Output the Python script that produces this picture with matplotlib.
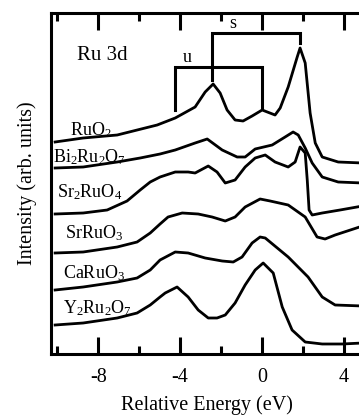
import matplotlib
matplotlib.use("Agg")
import matplotlib.pyplot as plt
from matplotlib.ticker import MultipleLocator

plt.rcParams['font.family'] = ['Liberation Serif', 'DejaVu Serif']
plt.rcParams['mathtext.fontset'] = 'custom'
plt.rcParams['mathtext.rm'] = 'Liberation Serif'
plt.rcParams['mathtext.default'] = 'regular'
plt.rcParams['axes.unicode_minus'] = False

# spectra: relative energy (eV) and offset intensity (arb.)
e_ruo2 = [-10.10, -8.73, -7.07, -5.12, -4.24, -3.27, -2.78, -2.39, -2.05, -1.71,
          -1.32, -0.93, -0.49, 0.00, 0.63, 0.88, 1.27, 1.71, 1.85, 2.10,
          2.34, 2.59, 2.93, 3.71, 4.90]
i_ruo2 = [212, 216, 219, 229, 236, 247, 262, 270, 261, 244,
          234, 233, 238, 244, 239, 246, 267, 297, 306, 291,
          241, 211, 197, 192, 191]

e_bi = [-10.10, -8.73, -7.07, -5.95, -4.98, -4.24, -3.27, -2.68, -1.95, -1.22,
        -0.83, -0.34, 0.49, 1.12, 1.51, 1.76, 2.10, 2.44, 2.93, 3.71, 4.90]
i_bi = [186, 187, 192, 196, 200, 204, 211, 215, 204, 197,
        197, 205, 209, 217, 222, 219, 206, 191, 177, 172, 171]

e_sr2 = [-10.10, -8.73, -7.56, -6.59, -5.95, -5.46, -4.98, -4.24, -3.61, -3.27,
         -2.63, -2.20, -1.80, -1.32, -0.83, -0.34, 0.15, 0.63, 1.27, 1.61,
         1.85, 2.10, 2.20, 2.29, 2.44, 2.93, 3.80, 4.90]
i_sr2 = [140, 141, 144, 153, 164, 172, 177, 182, 182, 181,
         188, 182, 171, 174, 187, 196, 199, 192, 187, 192,
         207, 201, 174, 144, 139, 141, 144, 148]

e_sr = [-10.10, -8.73, -7.07, -6.10, -5.46, -4.98, -4.59, -3.90, -3.12, -2.44,
        -1.80, -1.32, -0.83, -0.10, 0.39, 1.27, 2.10, 2.68, 3.07, 3.56, 4.90]
i_sr = [101, 102, 107, 112, 121, 130, 137, 141, 140, 137,
        133, 137, 147, 155, 153, 149, 137, 117, 115, 119, 128]

e_ca = [-10.10, -8.73, -7.07, -6.10, -5.46, -4.98, -4.24, -3.61, -2.78, -1.95,
        -1.41, -0.98, -0.49, -0.10, 0.15, 1.27, 2.24, 2.93, 3.56, 4.90]
i_ca = [64, 67, 72, 76, 84, 94, 102, 101, 96, 93,
        92, 97, 111, 117, 116, 97, 77, 57, 49, 48]

e_y = [-10.10, -8.73, -7.07, -6.10, -5.46, -4.98, -4.73, -4.15, -3.61, -3.12,
       -2.63, -2.20, -1.80, -1.32, -0.83, -0.34, 0.05, 0.54, 0.98, 1.46,
       2.10, 2.93, 3.90, 4.90]
i_y = [29, 31, 36, 41, 49, 57, 61, 67, 57, 44,
       36, 36, 39, 51, 69, 84, 91, 81, 47, 24,
       12, 10, 10, 11]

spectra = [(e_ruo2, i_ruo2), (e_bi, i_bi), (e_sr2, i_sr2),
           (e_sr, i_sr), (e_ca, i_ca), (e_y, i_y)]

names = ['RuO$_2$', 'Bi$_2$Ru$_2$O$_7$', 'Sr$_2$RuO$_4$',
         'SrRuO$_3$', 'CaRuO$_3$', 'Y$_2$Ru$_2$O$_7$']
name_x = [-9.37, -10.2, -10.0, -9.61, -9.71, -9.71]
name_y = [219, 192, 157, 116, 76, 41]

# u / s satellite brackets: (left E, right E, bar level, left foot, right foot)
u_br = (-4.24, 0.0, 287, 244, 246)
s_br = (-2.44, 1.85, 321, 274, 311)

fig = plt.figure(figsize=(3.59, 4.17), dpi=100)
ax = fig.add_axes([51 / 359, 63 / 417, 311.6 / 359, 341 / 417])

for e, i in spectra:
    ax.plot(e, i, color='black', lw=2.0, solid_joinstyle='round')

for nm, x, y in zip(names, name_x, name_y):
    ax.text(x, y, nm, fontsize=13, ha='left', va='baseline')

for (x0, x1, top, f0, f1), lab in [(u_br, 'u'), (s_br, 's')]:
    ax.plot([x0, x0, x1, x1], [f0, top, top, f1], color='black', lw=2.2,
            solid_joinstyle='miter')
    ax.text(x0 + 0.58 if lab == 'u' else -1.41, top + 5, lab, fontsize=13,
            ha='center', va='baseline')

ax.text(-9.02, 294, 'Ru 3d', fontsize=15, ha='left', va='baseline')

ax.set_xlim(-10.3, 4.9)
ax.set_ylim(0, 341)
ax.xaxis.set_major_locator(MultipleLocator(4))
ax.xaxis.set_minor_locator(MultipleLocator(2))
ax.set_yticks([])
ax.tick_params(axis='x', which='both', direction='in', top=True, width=2.2)
ax.tick_params(axis='x', which='major', length=12, labelsize=14.5, pad=10)
ax.tick_params(axis='x', which='minor', length=6)
for sp in ['left', 'bottom', 'top']:
    ax.spines[sp].set_linewidth(2.2)
ax.spines['right'].set_visible(False)

ax.set_xlabel('Relative Energy (eV)', fontsize=14.5, labelpad=6)
ax.set_ylabel('Intensity (arb. units)', fontsize=14.5, labelpad=10)

fig.savefig('out.png', dpi=100)
